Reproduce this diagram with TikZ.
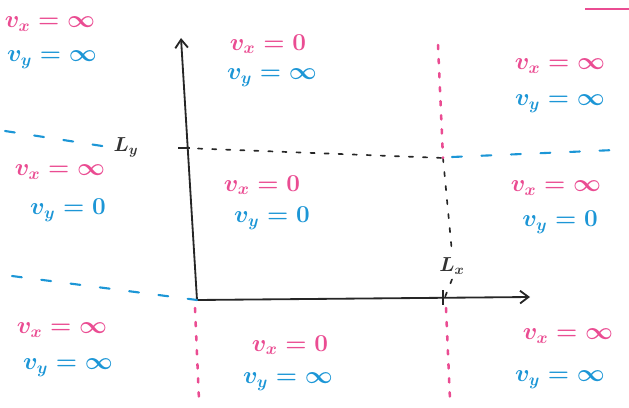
\documentclass[tikz,border=0pt]{standalone}
\usetikzlibrary{arrows.meta}
\definecolor{vxpink}{RGB}{234,76,146}
\definecolor{vyblue}{RGB}{28,150,214}
\begin{document}
\begin{tikzpicture}[x=0.025cm, y=-0.025cm,
    every node/.style={font=\LARGE\boldmath},
    vxlab/.style={text=vxpink},
    vylab/.style={text=vyblue},
    axisline/.style={draw=black!85, line width=1.3pt, -{Straight Barb[length=6pt, width=9pt]}},
    pinkdots/.style={draw=vxpink, line width=1.8pt, dash pattern=on 3pt off 7pt, line cap=round},
    bluedash/.style={draw=vyblue, line width=1.5pt, dash pattern=on 7pt off 14pt, line cap=round},
    blackdots/.style={draw=black!85, line width=1.2pt, dash pattern=on 3pt off 7pt, line cap=round}]
    \useasboundingbox (0,0) rectangle (629,407);

    % --- axes --------------------------------------------------------
    \coordinate (orig) at (197,300);
    \coordinate (ytip) at (181,38);
    \coordinate (xtip) at (530,297);
    \draw[axisline] (orig) -- (ytip);
    \draw[axisline] (orig) -- (xtip);

    % Tick marks and box corners
    \coordinate (lytick) at (184,148);
    \coordinate (corner) at (443,158);
    \coordinate (lxtick) at (445,297);
    \draw[black!85, line width=1.3pt] (178,148) -- (190,148);
    \draw[black!85, line width=1.3pt] (443,290) -- (443,305);
    \node[text=black!80, font=\Large\boldmath] (ly) at (126,147) {$L_y$};
    \node[text=black!80, font=\Large\boldmath] (lx) at (452,266) {$L_x$};

    % Box edges (black, dotted)
    \draw[blackdots] (lytick) -- (corner);
    \draw[blackdots] (corner) -- (lx.north);
    \draw[blackdots] (lx.south) -- (lxtick);

    % --- pink boundaries (x) ------------------------------------------
    \draw[pinkdots] (438,45) -- (corner);
    \draw[pinkdots] (446,308) -- (450,400);
    \draw[pinkdots] (195,308) -- (199,400);
    \draw[vxpink, line width=1.4pt] (585,9) -- (629,9);

    % --- blue boundaries (y) ------------------------------------------
    \draw[bluedash] (5,131) -- (ly.west);
    \draw[bluedash] (452,157) -- (615,150);
    \draw[bluedash] (12,276) -- (orig);

    % --- velocities per region ----------------------------------------
    \node[vxlab] (vxtl) at (50,24) {$v_x = \infty$};
    \node[vylab] (vytl) at (52,60) {$v_y = \infty$};
    \node[vxlab] (vxtm) at (268,44) {$v_x = 0$};
    \node[vylab] (vytm) at (272,78) {$v_y = \infty$};
    \node[vxlab] (vxtr) at (560,66) {$v_x = \infty$};
    \node[vylab] (vytr) at (560,104) {$v_y = \infty$};

    \node[vxlab] (vxml) at (60,172) {$v_x = \infty$};
    \node[vylab] (vyml) at (68,210) {$v_y = 0$};
    \node[vxlab] (vxmm) at (262,185) {$v_x = 0$};
    \node[vylab] (vymm) at (272,218) {$v_y = 0$};
    \node[vxlab] (vxmr) at (556,188) {$v_x = \infty$};
    \node[vylab] (vymr) at (560,222) {$v_y = 0$};

    \node[vxlab] (vxbl) at (62,330) {$v_x = \infty$};
    \node[vylab] (vybl) at (68,368) {$v_y = \infty$};
    \node[vxlab] (vxbm) at (290,345) {$v_x = 0$};
    \node[vylab] (vybm) at (288,382) {$v_y = \infty$};
    \node[vxlab] (vxbr) at (568,336) {$v_x = \infty$};
    \node[vylab] (vybr) at (560,380) {$v_y = \infty$};
  \end{tikzpicture}
\end{document}
